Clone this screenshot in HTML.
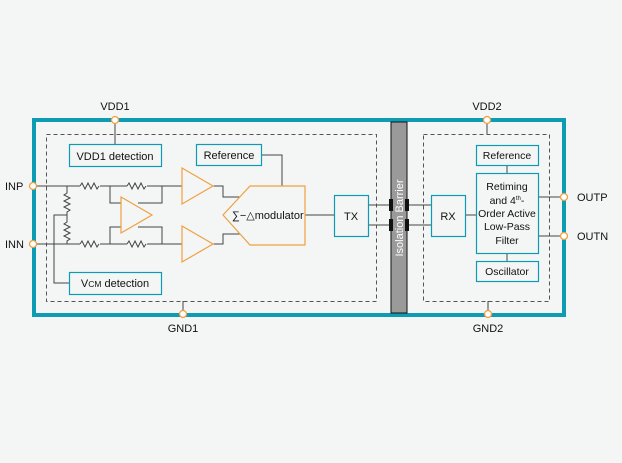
<!DOCTYPE html>
<html><head><style>
html,body{margin:0;padding:0;background:#f4f6f6;}
svg{display:block;font-family:"Liberation Sans",Arial,sans-serif;}
</style></head><body>
<svg width="622" height="463" viewBox="0 0 622 463" xmlns="http://www.w3.org/2000/svg">
<rect width="622" height="463" fill="#f4f6f6"/>
<!-- dashed areas -->
<rect x="46.5" y="134.5" width="330" height="167" fill="none" stroke="#555" stroke-dasharray="4,3"/>
<rect x="423.5" y="134.5" width="126" height="167" fill="none" stroke="#555" stroke-dasharray="4,3"/>
<!-- outer -->
<rect x="34" y="120" width="530" height="195" fill="none" stroke="#0e9cb5" stroke-width="4"/>
<!-- barrier -->
<rect x="391" y="122" width="16" height="191" fill="#9a9a9a" stroke="#111" stroke-width="1"/>
<text transform="translate(403,218) rotate(-90)" text-anchor="middle" font-size="11" fill="#fff">Isolation Barrier</text>
<g fill="#111"><rect x="389" y="199" width="4" height="12"/><rect x="405" y="199" width="4" height="12"/><rect x="389" y="219" width="4" height="12"/><rect x="405" y="219" width="4" height="12"/></g>
<g stroke="#444" stroke-width="1" fill="none">
<!-- power lines -->
<path d="M115 122V144M183 301V312M487 122V134M488 301V312"/>
<!-- input lines -->
<path d="M36 186H80M100 186H127M147 186H182M36 244H80M100 244H127M147 244H182"/>
<path d="M80 186l2-3 3 6 3-6 3 6 3-6 3 6 2-3M127 186l2-3 3 6 3-6 3 6 3-6 3 6 2-3"/>
<path d="M80 244l2-3 3 6 3-6 3 6 3-6 3 6 2-3M127 244l2-3 3 6 3-6 3 6 3-6 3 6 2-3"/>
<!-- vertical ladder -->
<path d="M67 186V193l-3 2 6 3-6 3 6 3-6 3 6 3-3 2V222l-3 2 6 3-6 3 6 3-6 3 6 3-3 2V244"/>
<path d="M67 215H54V283H69"/>
<!-- feedback -->
<path d="M110 186V203H121M162 186V203H138M110 244V227H121M162 244V227H138"/>
<!-- amp outputs -->
<path d="M213 186H223V197H240M213 244H223V234H240"/>
<path d="M261 155H282V186"/>
<path d="M305 215H334M368 205H389M368 225H389M409 205H431M409 225H431M465 215H476M507 165V173M507 253V261M538 197H562M538 236H562"/>
</g>
<!-- amps -->
<g fill="none" stroke="#f0a040" stroke-width="1.2">
<path d="M182 168L213 186L182 204Z"/>
<path d="M182 226L213 244L182 262Z"/>
<path d="M121 197L152 215L121 233Z"/>
<path d="M250 186H305V245H250L223 215Z"/>
</g>
<!-- boxes -->
<g fill="none" stroke="#0e9cb5" stroke-width="1.2">
<rect x="69.5" y="144.5" width="92" height="22"/>
<rect x="196.5" y="144.5" width="65" height="21"/>
<rect x="69.5" y="272.5" width="92" height="22"/>
<rect x="334.5" y="195.5" width="34" height="41"/>
<rect x="431.5" y="195.5" width="34" height="41"/>
<rect x="476.5" y="145.5" width="62" height="20"/>
<rect x="476.5" y="173.5" width="62" height="80"/>
<rect x="476.5" y="261.5" width="62" height="20"/>
</g>
<!-- terminals -->
<g fill="#fff" stroke="#f0a040" stroke-width="1.3">
<circle cx="115" cy="120" r="3.5"/><circle cx="183" cy="314" r="3.5"/>
<circle cx="487" cy="120" r="3.5"/><circle cx="488" cy="314" r="3.5"/>
<circle cx="33" cy="186" r="3.5"/><circle cx="33" cy="244" r="3.5"/>
<circle cx="564" cy="197" r="3.5"/><circle cx="564" cy="236" r="3.5"/>
</g>
<g font-size="11" fill="#111">
<text x="115" y="110" text-anchor="middle">VDD1</text>
<text x="183" y="332" text-anchor="middle">GND1</text>
<text x="487" y="110" text-anchor="middle">VDD2</text>
<text x="488" y="332" text-anchor="middle">GND2</text>
<text x="5" y="190">INP</text>
<text x="5" y="248">INN</text>
<text x="577" y="201">OUTP</text>
<text x="577" y="240">OUTN</text>
<text x="115" y="160" text-anchor="middle">VDD1 detection</text>
<text x="229" y="159" text-anchor="middle">Reference</text>
<text x="115" y="287" text-anchor="middle">V<tspan font-size="8.5">CM</tspan> detection</text>
<text x="232" y="219">∑−△modulator</text>
<text x="351" y="220" text-anchor="middle">TX</text>
<text x="448" y="220" text-anchor="middle">RX</text>
<text x="507" y="159" text-anchor="middle" font-size="10.5">Reference</text>
<text x="507" y="275" text-anchor="middle" font-size="10.5">Oscillator</text>
<g font-size="10.5" text-anchor="middle">
<text x="507" y="190">Retiming</text>
<text x="507" y="204">and 4<tspan font-size="6" dy="-4">th</tspan><tspan dy="4">-</tspan></text>
<text x="507" y="217">Order Active</text>
<text x="507" y="230">Low-Pass</text>
<text x="507" y="244">Filter</text>
</g>
</g>
</svg>
</body></html>
